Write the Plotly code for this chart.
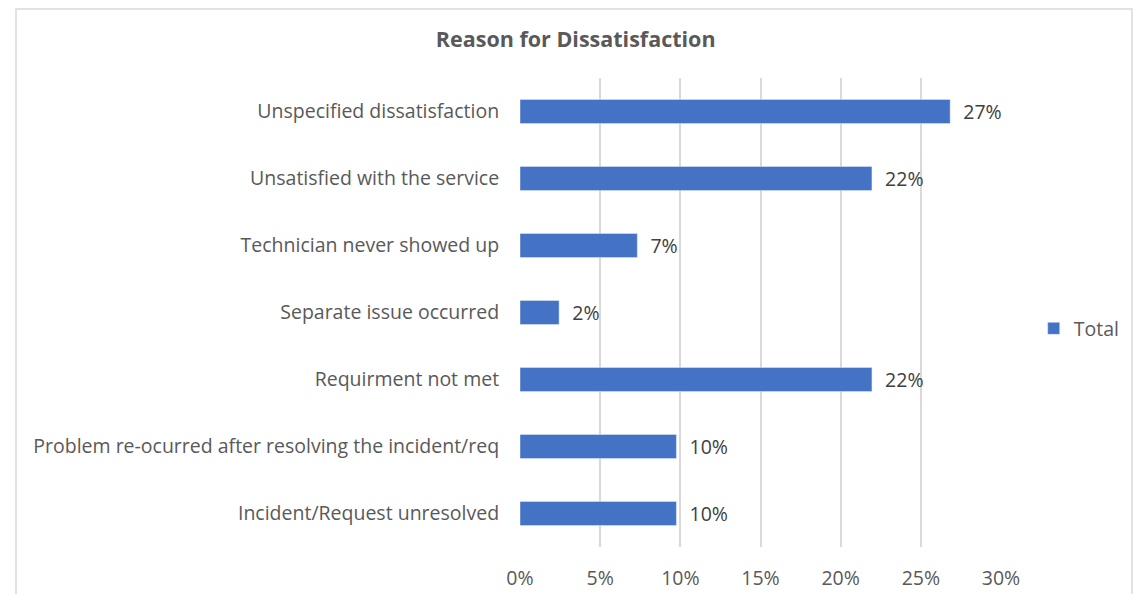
import plotly.graph_objects as go

categories = [
    "Unspecified dissatisfaction",
    "Unsatisfied with the service",
    "Technician never showed up",
    "Separate issue occurred",
    "Requirment not met",
    "Problem re-ocurred after resolving the incident/req",
    "Incident/Request unresolved",
]
values = [11/41, 9/41, 3/41, 1/41, 9/41, 4/41, 4/41]
tick_vals = [0, 0.05, 0.10, 0.15, 0.20, 0.25, 0.30]
tick_text = ["0%", "5%", "10%", "15%", "20%", "25%", "30%"]

FONT = "Open Sans"
TXT = "#595959"
FS = 19.5

fig = go.Figure()
fig.add_trace(go.Bar(
    y=categories, x=values, orientation="h", name="Total",
    marker=dict(color="#4472C4"),
    text=[f"  {v*100:.0f}%" for v in values],
    textposition="outside", cliponaxis=False, constraintext="none",
    textfont=dict(family=FONT, size=FS, color="#404040"),
    outsidetextfont=dict(family=FONT, size=FS, color="#404040"),
    hoverinfo="skip",
))

fig.update_layout(
    width=1140, height=594,
    margin=dict(l=520, r=139, t=78, b=47, autoexpand=False),
    paper_bgcolor="white", plot_bgcolor="white",
    font=dict(family=FONT, size=FS, color=TXT),
    title=dict(text="<b>Reason for Dissatisfaction</b>", x=0.505, xanchor="center",
               y=1 - 39/594, yanchor="middle",
               font=dict(family=FONT, size=21.5, color=TXT)),
    bargap=0.64,
    showlegend=True,
    legend=dict(x=1.068, xanchor="left", y=0.4655, yanchor="middle",
                font=dict(family=FONT, size=FS, color=TXT),
                itemwidth=30, bgcolor="rgba(0,0,0,0)"),
    xaxis=dict(range=[0, 0.30], tickvals=tick_vals, ticktext=tick_text,
               showgrid=True, gridcolor="#D9D9D9", gridwidth=1.5,
               zeroline=False, showline=False, automargin=False,
               ticks="outside", ticklen=14, tickcolor="rgba(0,0,0,0)",
               tickfont=dict(family=FONT, size=FS, color=TXT)),
    yaxis=dict(categoryorder="array", categoryarray=categories[::-1],
               showgrid=False, zeroline=False, showline=False, automargin=False,
               ticks="outside", ticklen=16, tickcolor="rgba(0,0,0,0)",
               tickfont=dict(family=FONT, size=FS, color=TXT)),
)

fig.add_shape(type="rect", xref="paper", yref="paper",
              x0=(16-520)/481, x1=(1132-520)/481,
              y0=(547-610)/469, y1=(547-9)/469,
              line=dict(color="#D9D9D9", width=1.5), layer="below")

fig.write_html("out.html")
